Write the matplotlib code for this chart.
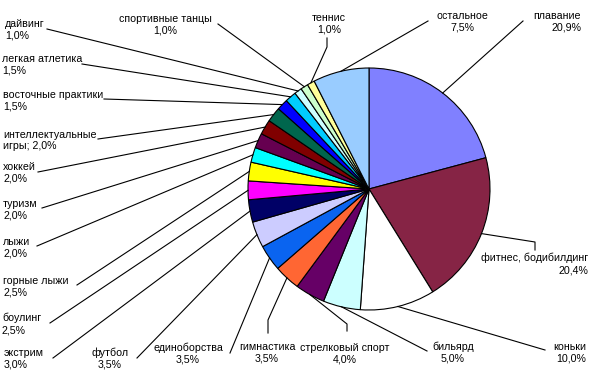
import matplotlib
matplotlib.use("Agg")
import matplotlib.pyplot as plt

plt.rcParams['font.family'] = ['Liberation Sans', 'DejaVu Sans']

# данные, по часовой стрелке от верхней точки
sports = ["плавание", "фитнес, бодибилдинг", "коньки", "бильярд",
          "стрелковый спорт", "гимнастика", "единоборства", "футбол",
          "экстрим", "боулинг", "горные лыжи", "лыжи", "туризм", "хоккей",
          "интеллектуальные\nигры;", "восточные практики", "легкая атлетика",
          "дайвинг", "спортивные танцы", "теннис", "остальное"]
shares = [20.9, 20.4, 10.0, 5.0, 4.0, 3.5, 3.5, 3.5, 3.0, 2.5, 2.5,
          2.0, 2.0, 2.0, 2.0, 1.5, 1.5, 1.0, 1.0, 1.0, 7.5]
colors = ["#8080FF", "#862445", "#FFFFFF", "#CCFFFF", "#660066", "#FF6633",
          "#0A64F0", "#CCCCFF", "#000066", "#FF00FF", "#FFFF00", "#00FFFF",
          "#660050", "#800000", "#00664D", "#0000FF", "#00CCFF", "#CCFFFF",
          "#CCFFCC", "#FFFF99", "#99CCFF"]

# расположение подписей (в пикселях картинки): x, y, выравнивание
label_pos = [(581, 21.5, "right"), (588, 264, "right"), (586, 352.5, "right"),
             (453, 352.5, "center"), (345, 354, "center"), (267, 352.5, "center"),
             (188, 353.5, "center"), (110, 358.5, "center"), (4, 358.5, "left"),
             (2, 324, "left"), (3, 286.5, "left"), (3, 247.5, "left"),
             (3, 209.5, "left"), (3, 172.5, "left"), (3, 140.5, "left"),
             (3, 100.5, "left"), (2, 65, "left"), (5, 29.5, "left"),
             (165, 25, "center"), (329, 23.5, "center"), (462, 22, "center")]
# концы выносных линий у подписей
line_ends = [[(523, 21)], [(535, 242), (535, 250)], [(545, 350)], [(427, 351)],
             [(347, 324), (347, 331)], [(268, 320), (268, 333)], [(230, 353)],
             [(137, 358)], [(53, 358)], [(50, 323)], [(77, 285)], [(37, 246)],
             [(42, 208)], [(38, 172)], [(98, 139)], [(104, 99)], [(82, 64)],
             [(47, 29)], [(218, 24)], [(327, 47), (327, 38)], [(428, 21)]]

cx, cy, r = 369, 189, 121

fig = plt.figure(figsize=(6, 3.76), dpi=100)
ax = fig.add_axes([0, 0, 1, 1])

wedges, _ = ax.pie(shares, colors=colors, startangle=-90, counterclock=True,
                   center=(cx, cy), radius=r,
                   wedgeprops=dict(edgecolor="black", linewidth=0.8))

import numpy as np
for w, name, val, (tx, ty, ha), ends in zip(wedges, sports, shares, label_pos, line_ends):
    mid = np.deg2rad((w.theta1 + w.theta2) / 2)
    px, py = cx + r * np.cos(mid), cy + r * np.sin(mid)
    xs = [px] + [p[0] for p in ends]
    ys = [py] + [p[1] for p in ends]
    ax.plot(xs, ys, color="black", linewidth=0.8, zorder=1)
    pct = f"{val:.1f}%".replace(".", ",")
    sep = " " if name.endswith(";") else "\n"
    ax.text(tx, ty, name + sep + pct, ha=ha, va="center", multialignment=ha,
            fontsize=7.7, linespacing=1.2)

ax.set_xlim(0, 600)
ax.set_ylim(376, 0)
ax.set_aspect("equal")
ax.axis("off")

fig.savefig("out.png", dpi=100)
